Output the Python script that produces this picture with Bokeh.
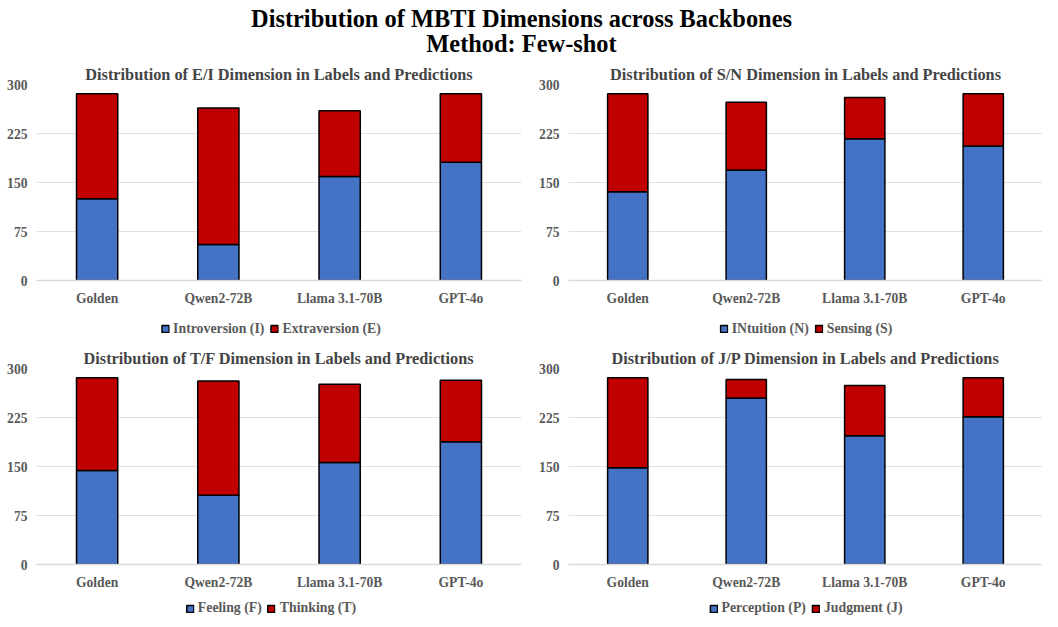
from bokeh.plotting import figure
from bokeh.layouts import column, row
from bokeh.models import Range1d, FactorRange, Legend, LegendItem, FixedTicker
from bokeh.embed import file_html
from bokeh.resources import INLINE
from bokeh.core.properties import value

models = ["Golden", "Qwen2-72B", "Llama 3.1-70B", "GPT-4o"]
ei_introversion = [125, 55, 159, 181]
ei_extraversion = [161, 209, 101, 105]
sn_intuition = [136, 169, 217, 206]
sn_sensing = [150, 104, 63, 80]
tf_feeling = [144, 106, 156, 188]
tf_thinking = [142, 175, 120, 94]
jp_perception = [148, 255, 197, 226]
jp_judgment = [138, 28, 77, 60]
y_ticks = [0, 75, 150, 225, 300]

main_title = "Distribution of MBTI Dimensions across Backbones"
sub_title = "Method: Few-shot"

FONT = "Liberation Serif"
GREY = "#595959"
TITLE_GREY = "#444444"
BLUE = "#4472C4"
RED = "#C00000"
NAN = float("nan")


def panel(title, b_vals, t_vals, width, height, bl, br, bt, bb):
    p = figure(x_range=FactorRange(factors=models), y_range=Range1d(0, 300),
               width=width, height=height, output_backend="svg", toolbar_location=None,
               min_border_left=bl, min_border_right=br, min_border_top=bt, min_border_bottom=bb,
               title=title)
    p.title.align = "center"
    p.title.text_font = FONT
    p.title.text_font_size = "16.3px"
    p.title.text_font_style = "bold"
    p.title.text_color = TITLE_GREY
    p.title.standoff = 2
    tops = [a + b for a, b in zip(b_vals, t_vals)]
    p.vbar(x=models, bottom=0, top=b_vals, width=0.34, fill_color=BLUE,
           line_color="black", line_width=1.5)
    p.vbar(x=models, bottom=b_vals, top=tops, width=0.34, fill_color=RED,
           line_color="black", line_width=1.5)
    p.outline_line_color = None
    p.xgrid.grid_line_color = None
    p.ygrid.grid_line_color = "#e0e0e0"
    p.ygrid.grid_line_width = 1
    p.yaxis.ticker = FixedTicker(ticks=y_ticks)
    p.yaxis.axis_line_color = None
    p.yaxis.major_label_standoff = 9
    p.xaxis.axis_line_color = "#d9d9d9"
    p.xaxis.axis_line_width = 1.5
    p.xaxis.major_label_standoff = 10
    for ax in (p.xaxis, p.yaxis):
        ax.major_tick_line_color = None
        ax.minor_tick_line_color = None
        ax.major_tick_out = 0
        ax.major_tick_in = 0
        ax.minor_tick_out = 0
        ax.minor_tick_in = 0
        ax.major_label_text_font = FONT
        ax.major_label_text_font_style = "bold"
        ax.major_label_text_font_size = "13.6px"
        ax.major_label_text_color = GREY
    return p


def legend_fig(b_name, t_name, width, height, bl, br, bt):
    f = figure(width=width, height=height, x_range=Range1d(0, 1), y_range=Range1d(0, 1),
               output_backend="svg", toolbar_location=None,
               min_border_left=bl, min_border_right=br, min_border_top=bt, min_border_bottom=0)
    f.axis.visible = False
    f.grid.visible = False
    f.outline_line_color = None
    # legend proxies (NaN data: nothing drawn in the frame, only the legend swatches)
    r1 = f.vbar(x=[NAN], top=[NAN], width=0.34, fill_color=BLUE, line_color="black", line_width=1.5)
    r2 = f.vbar(x=[NAN], top=[NAN], width=0.34, fill_color=RED, line_color="black", line_width=1.5)
    lg = Legend(items=[LegendItem(label=b_name, renderers=[r1]),
                       LegendItem(label=t_name, renderers=[r2])],
                orientation="horizontal", location="center",
                label_text_font=FONT, label_text_font_style="bold",
                label_text_font_size="13.8px", label_text_color=GREY,
                glyph_width=9, glyph_height=9, label_height=13, label_standoff=4, spacing=5,
                padding=0, margin=0, border_line_color=None, background_fill_alpha=0)
    f.add_layout(lg, "center")
    return f


header = figure(width=1042, height=60, x_range=Range1d(0, 1), y_range=Range1d(0, 60),
                output_backend="svg", toolbar_location=None, min_border=0)
header.axis.visible = False
header.grid.visible = False
header.outline_line_color = None
header.text(x=[0.5, 0.5], y=[42.3, 17.5], text=[main_title, sub_title],
            text_font=value(FONT), text_font_style="bold", text_font_size="24.4px",
            text_align="center", text_baseline="middle", text_color="black")

p1 = panel("Distribution of E/I Dimension in Labels and Predictions",
           ei_introversion, ei_extraversion, 530, 248, 36, 9, 24, 28)
p2 = panel("Distribution of S/N Dimension in Labels and Predictions",
           sn_intuition, sn_sensing, 512, 248, 38, 0, 24, 28)
l1 = legend_fig("Introversion (I)", "Extraversion (E)", 530, 29, 14, 3, 12)
l2 = legend_fig("INtuition (N)", "Sensing (S)", 512, 29, 39, 0, 12)
p3 = panel("Distribution of T/F Dimension in Labels and Predictions",
           tf_feeling, tf_thinking, 530, 255, 36, 9, 31, 28)
p4 = panel("Distribution of J/P Dimension in Labels and Predictions",
           jp_perception, jp_judgment, 512, 255, 38, 0, 31, 28)
l3 = legend_fig("Feeling (F)", "Thinking (T)", 530, 24, 14, 3, 8)
l4 = legend_fig("Perception (P)", "Judgment (J)", 512, 24, 39, 0, 8)

layout = column(header, row(p1, p2), row(l1, l2), row(p3, p4), row(l3, l4))
open("out.html", "w").write(file_html(layout, INLINE))
